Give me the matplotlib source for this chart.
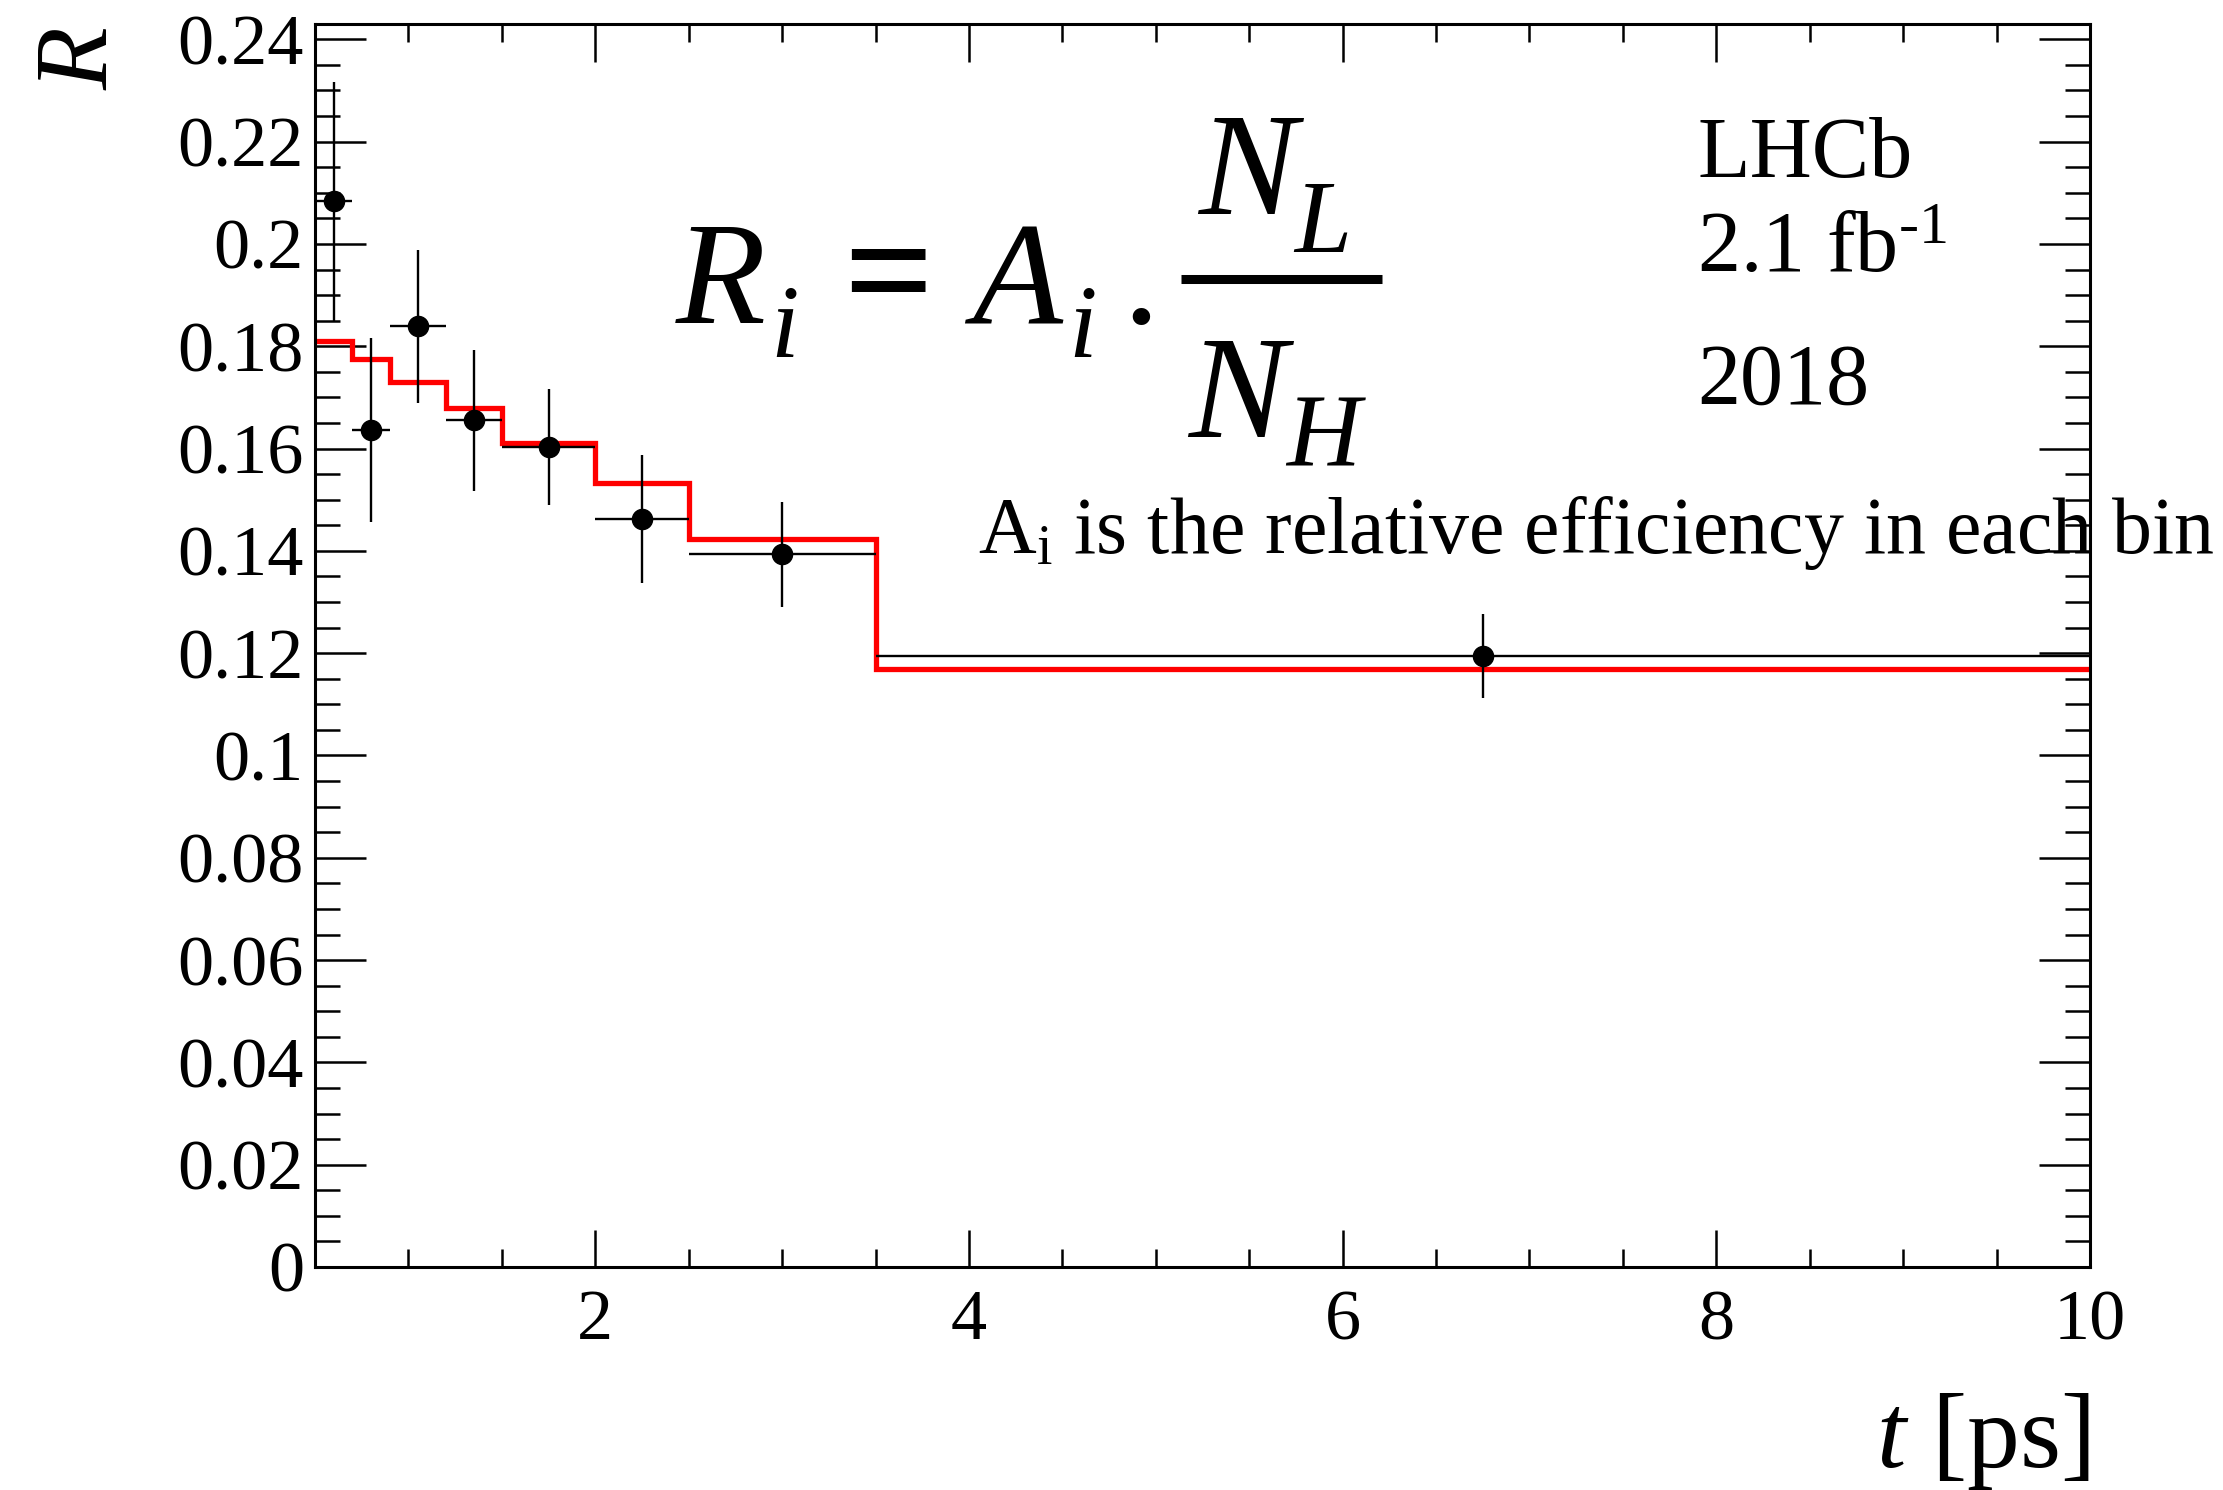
import numpy as np
import matplotlib
matplotlib.use('Agg')
import matplotlib.pyplot as plt
from matplotlib.ticker import MultipleLocator, FuncFormatter
from matplotlib.lines import Line2D

# decay-time bins [ps]
edges = [0.5, 0.7, 0.9, 1.2, 1.5, 2.0, 2.5, 3.5, 10.0]
# measured ratio R per bin and its uncertainty
ratio = [0.2083, 0.1636, 0.1839, 0.1655, 0.1603, 0.1463, 0.1393, 0.1195]
ratio_err = [0.0233, 0.0180, 0.0150, 0.0138, 0.0113, 0.0125, 0.0103, 0.0082]
# fitted ratio per bin
fit = [0.1811, 0.1775, 0.1731, 0.1679, 0.1611, 0.1533, 0.1424, 0.1170]

W, H = 2223, 1490

plt.rcParams['font.family'] = ['Liberation Serif', 'DejaVu Serif']
plt.rcParams['mathtext.fontset'] = 'custom'
plt.rcParams['mathtext.rm'] = 'Liberation Serif'
plt.rcParams['mathtext.it'] = 'Liberation Serif:italic'
plt.rcParams['mathtext.bf'] = 'Liberation Serif:bold'


def px(x, y):
    return x / W, 1 - y / H


fig = plt.figure(figsize=(W / 100, H / 100), dpi=100)
ax = fig.add_axes([315 / W, 1 - 1267 / H, (2090 - 315) / W, (1267 - 24) / H])

e = np.array(edges)
centers = 0.5 * (e[1:] + e[:-1])
half = 0.5 * (e[1:] - e[:-1])

ax.stairs(fit, edges, baseline=None, color='red', lw=3.8, zorder=2)
ax.errorbar(centers, ratio, xerr=half, yerr=ratio_err, fmt='o', color='black',
            ms=14.5, elinewidth=1.7, capsize=0, zorder=3)

ax.set_xlim(0.5, 10)
ax.set_ylim(0, 0.243)
ax.xaxis.set_major_locator(MultipleLocator(2))
ax.xaxis.set_minor_locator(MultipleLocator(0.5))
ax.yaxis.set_major_locator(MultipleLocator(0.02))
ax.yaxis.set_minor_locator(MultipleLocator(0.005))
fmt = FuncFormatter(lambda v, p: f'{v:g}')
ax.xaxis.set_major_formatter(fmt)
ax.yaxis.set_major_formatter(fmt)

for sp in ax.spines.values():
    sp.set_linewidth(2.2)
ax.tick_params(which='both', direction='in', top=True, right=True, width=1.8,
               labelsize=52)
ax.tick_params(axis='y', which='major', length=37, pad=8)
ax.tick_params(axis='y', which='minor', length=18)
ax.tick_params(axis='x', which='major', length=27, pad=16)
ax.tick_params(axis='x', which='minor', length=13)

# axis titles, ROOT-style placement
fig.text(*px(107, 26), r'$R$', fontsize=74, rotation=90, rotation_mode='anchor',
         ha='right', va='baseline')
fig.text(*px(2090, 1467), r'$t$ [ps]', fontsize=76, ha='right', va='baseline')

# formula R_i = A_i . N_L / N_H, set piece by piece
big, small = 106, 74
it = dict(style='italic', va='baseline')
fig.text(*px(676, 323), 'R', fontsize=big, **it)
fig.text(*px(770, 357), 'i', fontsize=small, **it)
fig.text(*px(888, 323), '=', fontsize=114, fontweight='bold', ha='center', va='baseline')
fig.text(*px(972, 323), 'A', fontsize=big, **it)
fig.text(*px(1068, 357), 'i', fontsize=small, **it)
fig.text(*px(1141, 323), '.', fontsize=big, ha='center', va='baseline')
fig.text(*px(1198, 214), 'N', fontsize=big, **it)
fig.text(*px(1294, 252), 'L', fontsize=small, **it)
fig.text(*px(1188, 437), 'N', fontsize=big, **it)
fig.text(*px(1286, 467), 'H', fontsize=small, **it)
fig.add_artist(Line2D([1181 / W, 1382 / W], [1 - 279 / H] * 2, transform=fig.transFigure,
                      lw=6.5, color='black', solid_capstyle='butt'))

fig.text(*px(1697, 177), 'LHCb', fontsize=62, va='baseline')
fig.text(*px(1697, 272), r'2.1 fb$^{\text{-1}}$', fontsize=62, va='baseline')
fig.text(*px(1697, 404), '2018', fontsize=62, va='baseline')

fig.text(*px(978, 553), r'$\mathrm{A}_\mathrm{i}$ is the relative efficiency in each bin',
         fontsize=57.5, va='baseline')

fig.savefig('out.png', dpi=100)
